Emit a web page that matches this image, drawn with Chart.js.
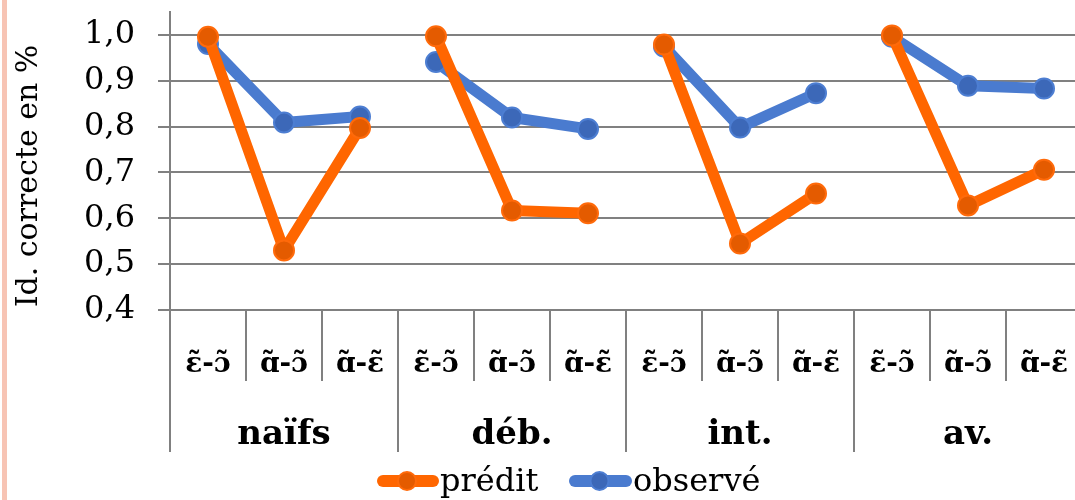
<!DOCTYPE html>
<html>
<head>
<meta charset="utf-8">
<script src="https://cdn.jsdelivr.net/npm/chart.js@4/dist/chart.umd.min.js"></script>
<style>
html, body { margin: 0; padding: 0; background: #fff; overflow: hidden; }
#wrap { position: relative; width: 1094px; height: 500px; }
#edge { position: absolute; left: 2px; top: 0; width: 5px; height: 500px; background: #F7C4B4; }
canvas { position: absolute; left: 0; top: 0; }
</style>
</head>
<body>
<div id="wrap"><div id="edge"></div><canvas id="line-chart" width="1094" height="500"></canvas></div>
<script>
var groups = ['naïfs', 'déb.', 'int.', 'av.'];
var pairs = ['ɛ̃-ɔ̃', 'ɑ̃-ɔ̃', 'ɑ̃-ɛ̃'];
var predit = [0.996, 0.530, 0.797, 0.997, 0.617, 0.611, 0.979, 0.545, 0.654, 0.999, 0.628, 0.706];
var observe = [0.980, 0.809, 0.822, 0.941, 0.820, 0.795, 0.975, 0.798, 0.873, 0.996, 0.889, 0.883];
var yTicks = [0.4, 0.5, 0.6, 0.7, 0.8, 0.9, 1.0];
var yTitle = 'Id. correcte en %';

var labels = [];
groups.forEach(function(g){ pairs.forEach(function(p){ labels.push(p); }); });

var FONT = "'DejaVu Serif', serif";
var GRID = '#808080';

// hide the segment that would join two groups
function gapColor(c){ return c.p0DataIndex % 3 === 2 ? 'rgba(0,0,0,0)' : undefined; }

// no extra label padding around the axes
function noPad(s){ s.paddingTop = 0; s.paddingBottom = 0; s.paddingLeft = 0; s.paddingRight = 0; }

var deco = {
    id: 'deco',
    afterDraw: function(chart){
        var ctx = chart.ctx, area = chart.chartArea, x = chart.scales.x;
        var n = chart.data.labels.length;
        var w = (area.right - area.left) / n;
        ctx.save();
        // category dividers
        ctx.strokeStyle = GRID; ctx.lineWidth = 2;
        for (var i = 0; i <= n; i++) {
            var px = Math.round(area.left + i * w);
            ctx.beginPath();
            ctx.moveTo(px, area.bottom);
            ctx.lineTo(px, i % 3 === 0 ? 452 : 381);
            ctx.stroke();
        }
        ctx.fillStyle = '#000';
        ctx.textAlign = 'center';
        ctx.textBaseline = 'alphabetic';
        ctx.font = "bold 28px " + FONT;
        chart.data.labels.forEach(function(l, i){
            ctx.fillText(l, x.getPixelForValue(i), 372);
        });
        ctx.font = "bold 34px " + FONT;
        groups.forEach(function(g, j){
            ctx.fillText(g, x.getPixelForValue(j * 3 + 1), 444);
        });
        // y title
        ctx.save();
        ctx.translate(29, 176);
        ctx.rotate(-Math.PI / 2);
        ctx.font = "30px " + FONT;
        ctx.textBaseline = 'middle';
        ctx.fillText(yTitle, 0, 0);
        ctx.restore();
        // legend
        var items = [[377, 439], [569, 632]];
        ctx.font = "32px " + FONT;
        ctx.textAlign = 'left';
        chart.data.datasets.forEach(function(ds, k){
            var x0 = items[k][0], x1 = items[k][1], cy = 481;
            ctx.strokeStyle = ds.borderColor; ctx.lineWidth = 12; ctx.lineCap = 'round';
            ctx.beginPath(); ctx.moveTo(x0 + 6, cy); ctx.lineTo(x1 - 6, cy); ctx.stroke();
            ctx.beginPath(); ctx.arc((x0 + x1) / 2 - 1, cy, 9, 0, Math.PI * 2);
            ctx.fillStyle = ds.pointBackgroundColor; ctx.fill();
            ctx.lineWidth = 2; ctx.strokeStyle = ds.pointBorderColor; ctx.stroke();
            ctx.fillStyle = '#000';
            ctx.fillText(ds.label, x1 + 1, 491);
        });
        ctx.restore();
    }
};

var lineChart = new Chart(document.getElementById('line-chart'), {
    type: 'line',
    data: {
        labels: labels,
        datasets: [
            {
                label: 'prédit',
                data: predit,
                borderColor: '#FF6600',
                borderWidth: 11,
                pointRadius: 10,
                pointBorderWidth: 2,
                pointBackgroundColor: '#E45B00',
                pointBorderColor: '#FF6A0A',
                segment: { borderColor: gapColor }
            },
            {
                label: 'observé',
                data: observe,
                borderColor: '#4A7BCF',
                borderWidth: 11,
                pointRadius: 10,
                pointBorderWidth: 2,
                pointBackgroundColor: '#3C68B8',
                pointBorderColor: '#4D7ED2',
                segment: { borderColor: gapColor }
            }
        ]
    },
    options: {
        responsive: false,
        animation: false,
        events: [],
        layout: { padding: { top: 10, left: 0, right: 0, bottom: 0 } },
        elements: { line: { tension: 0, borderJoinStyle: 'round' } },
        plugins: { legend: { display: false }, tooltip: { enabled: false } },
        scales: {
            x: {
                offset: true,
                ticks: { display: false },
                grid: { display: false },
                border: { display: false },
                afterFit: function(s){ s.height = 190; noPad(s); }
            },
            y: {
                min: 0.4,
                max: 1.05,
                afterBuildTicks: function(s){ s.ticks = yTicks.map(function(v){ return { value: v }; }); },
                afterFit: function(s){ s.width = 170; noPad(s); },
                ticks: {
                    color: '#000',
                    padding: 23,
                    font: { family: FONT, size: 32 },
                    callback: function(v){ return v.toFixed(1).replace('.', ','); }
                },
                grid: { color: GRID, lineWidth: 2, tickLength: 12 },
                border: { color: GRID, width: 2 }
            }
        }
    },
    plugins: [deco]
});
</script>
</body>
</html>
